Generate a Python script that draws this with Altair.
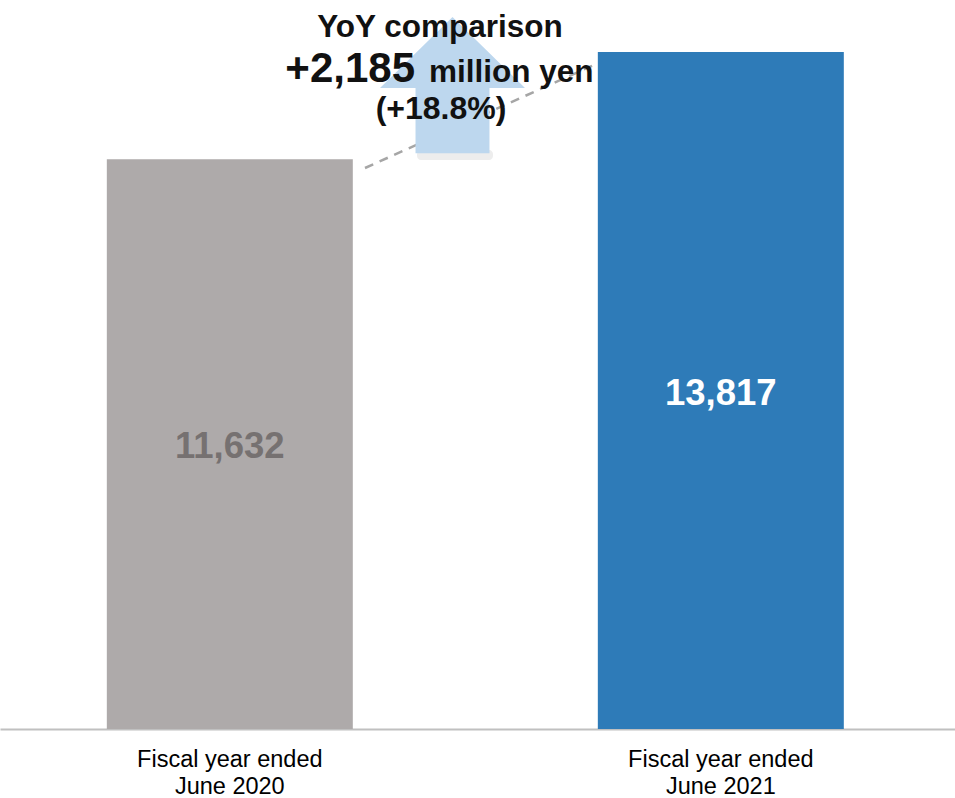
import altair as alt
import pandas as pd

# ---- data ----
periods = ["Fiscal year ended|June 2020", "Fiscal year ended|June 2021"]
sales = [11632, 13817]

title_line = "YoY comparison"
diff_text = "+2,185"
unit_text = "million yen"
pct_text = "(+18.8%)"

FONT = "Liberation Sans"
GRAY = "#aeaaaa"
BLUE = "#2e7bb8"
W, H = 955, 729

df = pd.DataFrame({"period": periods, "sales": sales})

x = alt.X(
    "period:N",
    sort=periods,
    scale=alt.Scale(paddingInner=0.499, paddingOuter=0.222, align=0.49),
    axis=alt.Axis(
        title=None,
        labelExpr="split(datum.label, '|')",
        labelFont=FONT,
        labelFontSize=23.5,
        labelColor="#000000",
        labelLineHeight=27,
        labelPadding=18,
        labelLimit=600,
        labelAngle=0,
        ticks=False,
        tickSize=0,
        domainColor="#c0c0c0",
        domainWidth=2,
        grid=False,
    ),
)
y = alt.Y("sales:Q", scale=alt.Scale(domain=[0, 14880], nice=False), axis=None)

bars = alt.Chart(df).mark_bar().encode(
    x=x,
    y=y,
    color=alt.Color("period:N", scale=alt.Scale(domain=periods, range=[GRAY, BLUE]), legend=None),
)

labels = alt.Chart(df).transform_calculate(mid="datum.sales / 2").mark_text(
    font=FONT, fontSize=36.5, fontWeight="bold", baseline="middle", dy=3
).encode(
    x=alt.X("period:N", sort=periods),
    y=alt.Y("mid:Q"),
    text=alt.Text("sales:Q", format=",d"),
    color=alt.condition(alt.datum.period == periods[0], alt.value("#767171"), alt.value("#ffffff")),
)

one = pd.DataFrame({"k": [0]})

dash = alt.Chart(one).mark_rule(color="#a6a6a6", strokeWidth=2.5, strokeDash=[9, 7]).encode(
    x=alt.value(365), y=alt.value(168), x2=alt.value(596), y2=alt.value(64)
)

shadow = alt.Chart(one).mark_rect(color="#9a9a9a", opacity=0.18, cornerRadius=4).encode(
    x=alt.value(417), x2=alt.value(493), y=alt.value(150), y2=alt.value(160)
)

arrow = alt.Chart(one).mark_point(
    shape="M -1 0 L 0 -0.98 L 1 0 L 0.51 0 L 0.51 0.9 L -0.51 0.9 L -0.51 0 Z",
    filled=True, color="#bdd7ee", opacity=1, size=21025, strokeWidth=0,
).encode(x=alt.value(452.5), y=alt.value(88))

t1 = alt.Chart(one).mark_text(font=FONT, fontSize=31.5, fontWeight="bold", color="#111111",
                              align="center", baseline="alphabetic").encode(
    x=alt.value(440), y=alt.value(37), text=alt.value(title_line))
t2 = alt.Chart(one).mark_text(font=FONT, fontSize=42, fontWeight="bold", color="#111111",
                              align="right", baseline="alphabetic").encode(
    x=alt.value(415), y=alt.value(82), text=alt.value(diff_text))
t3 = alt.Chart(one).mark_text(font=FONT, fontSize=31.5, fontWeight="bold", color="#111111",
                              align="left", baseline="alphabetic").encode(
    x=alt.value(429), y=alt.value(82), text=alt.value(unit_text))
t4 = alt.Chart(one).mark_text(font=FONT, fontSize=32, fontWeight="bold", color="#111111",
                              align="center", baseline="alphabetic").encode(
    x=alt.value(441), y=alt.value(119), text=alt.value(pct_text))

chart = alt.layer(bars, labels, dash, shadow, arrow, t1, t2, t3, t4).properties(
    width=W, height=H,
    padding={"left": 0, "top": 0, "right": 0, "bottom": 69},
    autosize=alt.AutoSizeParams(type="none"),
    background="#ffffff",
).configure_view(stroke=None)

chart.save("out.html", embed_options={"renderer": "svg", "actions": False})
